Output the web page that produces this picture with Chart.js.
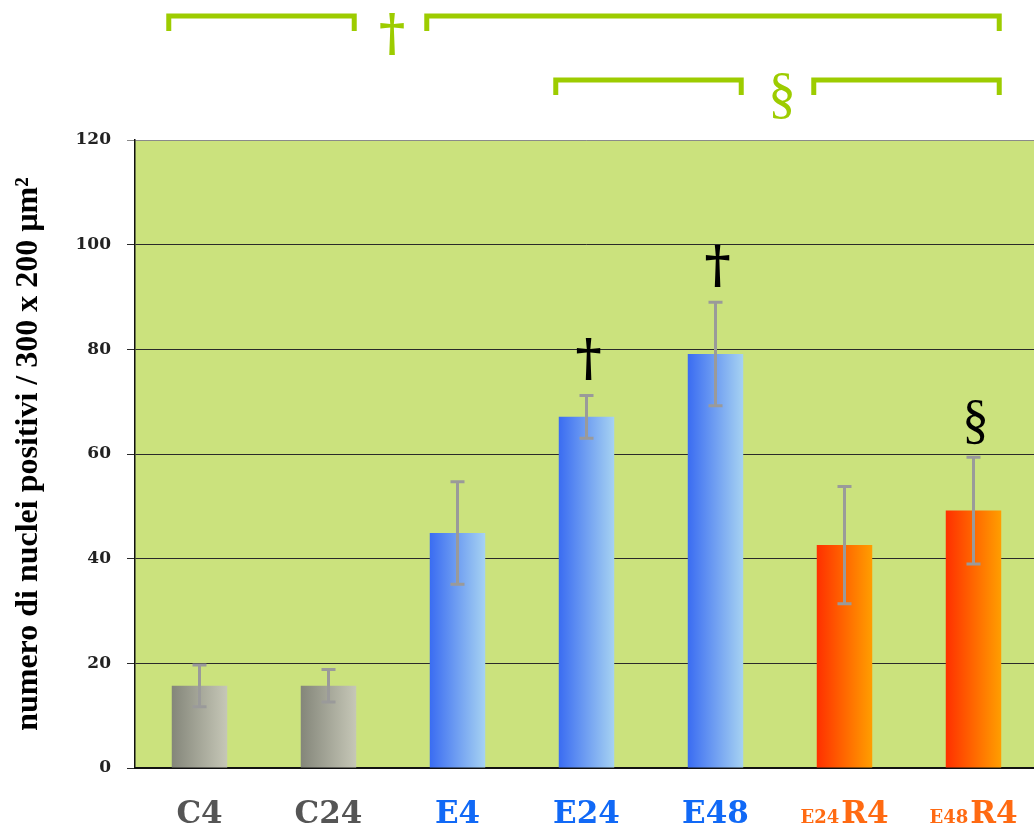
<!DOCTYPE html>
<html>
<head>
<meta charset="utf-8">
<script src="https://cdn.jsdelivr.net/npm/chart.js@4"></script>
<style>
  html, body { margin: 0; padding: 0; background: #fff; overflow: hidden; }
  #wrap { width: 1038px; height: 835px; }
</style>
</head>
<body>
<div id="wrap"><canvas id="bar-chart" width="1038" height="835"></canvas></div>
<script>
// data
const categories = ['C4', 'C24', 'E4', 'E24', 'E48', 'E24R4', 'E48R4'];
const values = [15.7, 15.7, 44.9, 67.1, 79.1, 42.6, 49.2];
const errors = [4.0, 3.1, 9.8, 4.1, 9.9, 11.2, 10.2];
const groups = ['C', 'C', 'E', 'E', 'E', 'R', 'R'];
const yTicks = [0, 20, 40, 60, 80, 100, 120];
// markers above bars and the comparison brackets on top
const barMarks = ['', '', '', '†', '†', '', '§'];
const brackets = [['C4', 'C24', 0], ['E4', 'E48R4', 0], ['E24', 'E48', 1], ['E24R4', 'E48R4', 1]];
const bracketMarks = [['†', 0], ['§', 1]];

const barPct = 0.43;
const lime = '#9dcc00';

const gradColors = {
    C: ['#84867a', '#c6c7b7'],
    E: ['#3a6cf2', '#a6d2f2'],
    R: ['#ff3000', '#ff9e00']
};
const labelColors = { C: '#555555', E: '#1169f6', R: '#ff6a12' };

function barFill(c) {
    const chart = c.chart;
    const xs = chart.scales.x;
    const cols = gradColors[groups[c.dataIndex]] || gradColors.C;
    if (!xs || c.type !== 'data') return cols[0];
    const x = xs.getPixelForTick(c.dataIndex);
    const w = xs.width / categories.length * barPct;
    if (!isFinite(x) || !isFinite(w) || w <= 0) return cols[0];
    const g = chart.ctx.createLinearGradient(x - w / 2, 0, x + w / 2, 0);
    g.addColorStop(0, cols[0]);
    g.addColorStop(1, cols[1]);
    return g;
}

const decor = {
    id: 'decor',
    beforeDraw(chart) {
        const { ctx, chartArea: a } = chart;
        ctx.save();
        ctx.fillStyle = '#cbe27d';
        ctx.fillRect(a.left, a.top, a.right - a.left, a.bottom - a.top);
        ctx.restore();
    },
    afterDatasetsDraw(chart) {
        const { ctx } = chart;
        const xs = chart.scales.x, ys = chart.scales.y;
        const half = xs.width / categories.length * barPct / 2;
        ctx.save();
        // error bars
        ctx.strokeStyle = '#9a9a9a';
        ctx.lineWidth = 3;
        for (let i = 0; i < values.length; i++) {
            const x = xs.getPixelForTick(i);
            const top = ys.getPixelForValue(values[i] + errors[i]);
            const bot = ys.getPixelForValue(values[i] - errors[i]);
            ctx.beginPath();
            ctx.moveTo(x, top); ctx.lineTo(x, bot);
            ctx.moveTo(x - 7, top); ctx.lineTo(x + 7, top);
            ctx.moveTo(x - 7, bot); ctx.lineTo(x + 7, bot);
            ctx.stroke();
        }
        // significance marks above bars
        ctx.fillStyle = '#000';
        ctx.textAlign = 'center';
        ctx.textBaseline = 'alphabetic';
        for (let i = 0; i < barMarks.length; i++) {
            if (!barMarks[i]) continue;
            const x = xs.getPixelForTick(i);
            const top = ys.getPixelForValue(values[i] + errors[i]);
            ctx.font = barMarks[i] === '§' ? '54px "Liberation Serif"' : 'bold 50px "DejaVu Serif"';
            ctx.fillText(barMarks[i], x + 2, top - 20);
        }
        // brackets on top
        const rowY = [16, 80];
        ctx.strokeStyle = lime;
        ctx.lineWidth = 5;
        ctx.lineCap = 'butt';
        brackets.forEach(b => {
            const x1 = xs.getPixelForTick(categories.indexOf(b[0])) - half - 3;
            const x2 = xs.getPixelForTick(categories.indexOf(b[1])) + half - 2;
            const y = rowY[b[2]];
            ctx.beginPath();
            ctx.moveTo(x1, y + 15); ctx.lineTo(x1, y); ctx.lineTo(x2, y); ctx.lineTo(x2, y + 15);
            ctx.stroke();
        });
        ctx.fillStyle = lime;
        ctx.font = 'bold 50px "DejaVu Serif"';
        ctx.fillText(bracketMarks[0][0], 392, 50);
        ctx.font = '56px "Liberation Serif"';
        ctx.fillText(bracketMarks[1][0], 782, 112);
        // category labels
        ctx.textAlign = 'left';
        for (let i = 0; i < categories.length; i++) {
            const x = xs.getPixelForTick(i);
            const m = categories[i].match(/^(E\d+)(R\d+)$/);
            ctx.fillStyle = labelColors[groups[i]];
            const big = 'bold 31px "DejaVu Serif"';
            const small = 'bold 18px "DejaVu Serif"';
            if (m) {
                ctx.font = small; const w1 = ctx.measureText(m[1]).width;
                ctx.font = big; const w2 = ctx.measureText(m[2]).width;
                const start = x - (w1 + w2 + 2) / 2;
                ctx.font = small; ctx.fillText(m[1], start, 823);
                ctx.font = big; ctx.fillText(m[2], start + w1 + 2, 823);
            } else {
                ctx.font = big;
                const w = ctx.measureText(categories[i]).width;
                ctx.fillText(categories[i], x - w / 2, 823);
            }
        }
        ctx.restore();
    }
};

new Chart(document.getElementById('bar-chart'), {
    type: 'bar',
    data: {
        labels: categories,
        datasets: [{
            data: values,
            backgroundColor: barFill,
            borderWidth: 0,
            barPercentage: barPct,
            categoryPercentage: 1
        }]
    },
    options: {
        responsive: false,
        animation: false,
        layout: { padding: { top: 140, left: 0, right: 0, bottom: 0 } },
        plugins: { legend: { display: false }, tooltip: { enabled: false } },
        scales: {
            x: {
                grid: { display: false, drawTicks: false },
                ticks: { display: false },
                border: { display: true, color: '#111', width: 2 },
                afterFit: s => { s.height = 67; }
            },
            y: {
                min: 0,
                max: 120,
                afterBuildTicks: s => { s.ticks = yTicks.map(v => ({ value: v })); },
                afterFit: s => { s.width = 135; },
                grid: {
                    color: c => (c.tick && c.tick.value === 120 ? '#8a8a8a' : '#2a2a2a'),
                    lineWidth: 1,
                    tickLength: 8,
                    drawTicks: true
                },
                border: { display: true, color: '#111', width: 1.5 },
                ticks: {
                    color: '#222',
                    padding: 16,
                    font: { family: '"DejaVu Serif"', weight: 'bold', size: 17 }
                },
                title: {
                    display: true,
                    text: 'numero di nuclei positivi / 300 x 200 µm²',
                    color: '#000',
                    padding: { top: 10, bottom: 0 },
                    font: { family: '"Liberation Serif"', weight: 'bold', size: 32 }
                }
            }
        }
    },
    plugins: [decor]
});
</script>
</body>
</html>
